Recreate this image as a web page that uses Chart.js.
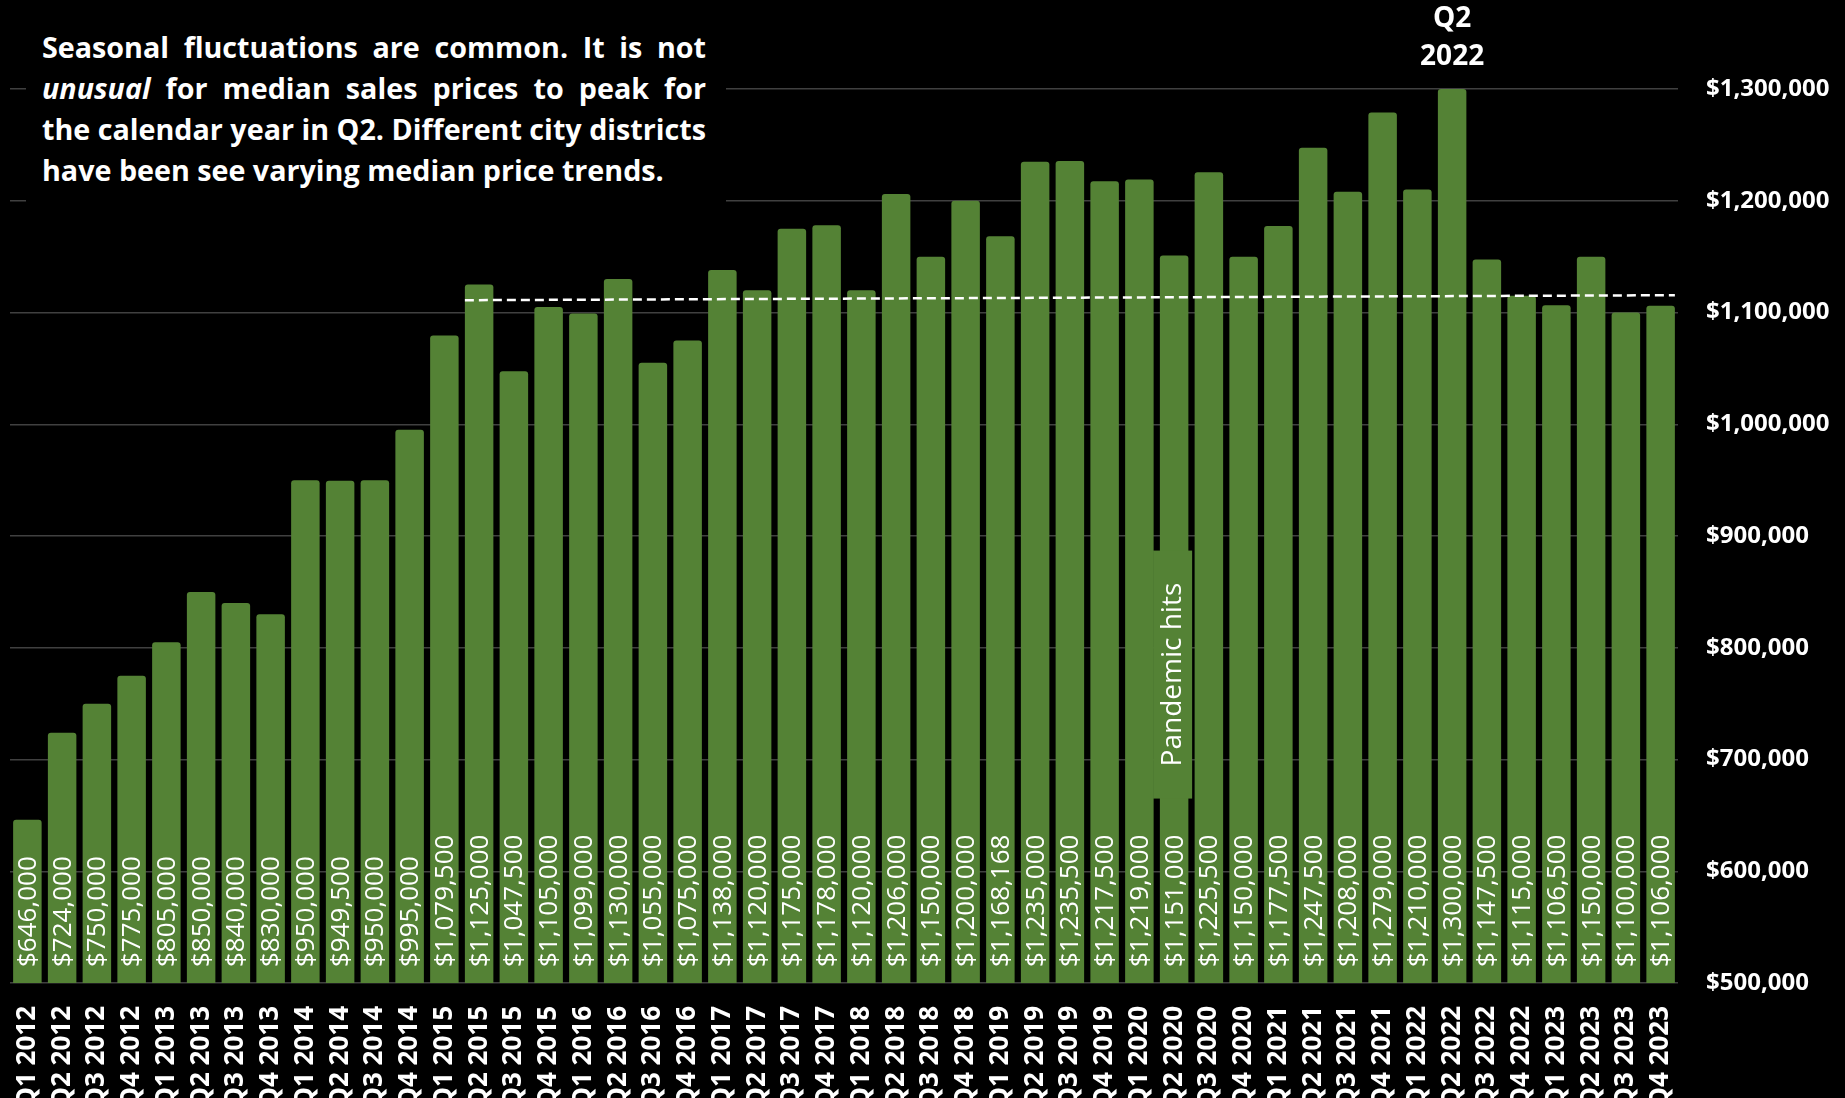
<!DOCTYPE html>
<html>
<head>
<meta charset="utf-8">
<script src="https://cdn.jsdelivr.net/npm/chart.js@4.4.1/dist/chart.umd.min.js"></script>
<style>
  html, body { margin: 0; padding: 0; background: #000; overflow: hidden; }
  .wrap { position: relative; width: 1845px; height: 1098px; }
  #priceChart { position: absolute; left: 0; top: 0; }
  .note {
    position: absolute; left: 26px; top: 0; width: 700px; height: 206px;
    background: #000; box-sizing: border-box; padding: 26px 0 0 16px;
    font-family: "Open Sans", sans-serif; font-weight: 700; font-size: 28.7px;
    line-height: 41px; color: #fff;
  }
  .note div { width: 664px; text-align: justify; text-align-last: justify; white-space: nowrap; }
  .note div.last { text-align-last: left; }
</style>
</head>
<body>
<div class="wrap">
  <canvas id="priceChart" width="1845" height="1098"></canvas>
  <div class="note" id="note"></div>
</div>
<script>
// quarters on the x axis
const quarters = [
  'Q1 2012', 'Q2 2012', 'Q3 2012', 'Q4 2012',
  'Q1 2013', 'Q2 2013', 'Q3 2013', 'Q4 2013',
  'Q1 2014', 'Q2 2014', 'Q3 2014', 'Q4 2014',
  'Q1 2015', 'Q2 2015', 'Q3 2015', 'Q4 2015',
  'Q1 2016', 'Q2 2016', 'Q3 2016', 'Q4 2016',
  'Q1 2017', 'Q2 2017', 'Q3 2017', 'Q4 2017',
  'Q1 2018', 'Q2 2018', 'Q3 2018', 'Q4 2018',
  'Q1 2019', 'Q2 2019', 'Q3 2019', 'Q4 2019',
  'Q1 2020', 'Q2 2020', 'Q3 2020', 'Q4 2020',
  'Q1 2021', 'Q2 2021', 'Q3 2021', 'Q4 2021',
  'Q1 2022', 'Q2 2022', 'Q3 2022', 'Q4 2022',
  'Q1 2023', 'Q2 2023', 'Q3 2023', 'Q4 2023'
]

// median sales price per quarter
const medianPrice = [
  646000, 724000, 750000, 775000,
  805000, 850000, 840000, 830000,
  950000, 949500, 950000, 995000,
  1079500, 1125000, 1047500, 1105000,
  1099000, 1130000, 1055000, 1075000,
  1138000, 1120000, 1175000, 1178000,
  1120000, 1206000, 1150000, 1200000,
  1168168, 1235000, 1235500, 1217500,
  1219000, 1151000, 1225500, 1150000,
  1177500, 1247500, 1208000, 1279000,
  1210000, 1300000, 1147500, 1115000,
  1106500, 1150000, 1100000, 1106000
]

// y axis ticks
const yTicks = [500000, 600000, 700000, 800000, 900000, 1000000, 1100000, 1200000, 1300000]

// dashed trend line: from/to quarter and value at each end
const trendQuarters = ['Q2 2015', 'Q4 2023']
const trendValues = [1111000, 1115500]

const peakQuarter = 'Q2 2022'
const peakLines = ['Q2', '2022']

const pandemicQuarter = 'Q2 2020'
const pandemicText = 'Pandemic hits'

const noteLines = [
  'Seasonal fluctuations are common. It is not',
  '<i>unusual</i> for median sales prices to peak for',
  'the calendar year in Q2. Different city districts',
  'have been see varying median price trends.'
]

const BAR_GREEN = '#548235'
const FONT = '"Open Sans", sans-serif'

// note box top left
const note = document.getElementById('note')
noteLines.forEach((line, i) => {
  const div = document.createElement('div')
  div.innerHTML = line
  if (i === noteLines.length - 1) div.classList.add('last')
  note.appendChild(div)
})

const money = v => '$' + v.toLocaleString('en-US')

// value labels written upward inside each bar
const barLabels = {
  id: 'barLabels',
  afterDatasetsDraw(chart) {
    const ctx = chart.ctx
    const meta = chart.getDatasetMeta(0)
    const base = chart.chartArea.bottom
    ctx.save()
    ctx.fillStyle = '#fff'
    ctx.font = '400 26px ' + FONT
    ctx.textAlign = 'left'
    ctx.textBaseline = 'middle'
    meta.data.forEach((bar, i) => {
      ctx.save()
      ctx.translate(bar.x, base - 16)
      ctx.rotate(-Math.PI / 2)
      ctx.fillText(money(medianPrice[i]), 0, 1)
      ctx.restore()
    })
    ctx.restore()
  }
}

// dashed trend line, peak label and pandemic marker
const extras = {
  id: 'extras',
  afterDatasetsDraw(chart) {
    const ctx = chart.ctx
    const x = chart.scales.x
    const y = chart.scales.y
    const meta = chart.getDatasetMeta(0)
    const i0 = quarters.indexOf(trendQuarters[0])
    const i1 = quarters.indexOf(trendQuarters[1])
    const half = meta.data[i0].width / 2

    ctx.save()
    ctx.strokeStyle = '#fff'
    ctx.lineWidth = 2.5
    ctx.setLineDash([9, 5])
    ctx.beginPath()
    ctx.moveTo(x.getPixelForValue(i0) - half, y.getPixelForValue(trendValues[0]))
    ctx.lineTo(x.getPixelForValue(i1) + half, y.getPixelForValue(trendValues[1]))
    ctx.stroke()
    ctx.restore()

    // peak quarter above the tallest bar
    const px = x.getPixelForValue(quarters.indexOf(peakQuarter))
    ctx.save()
    ctx.fillStyle = '#fff'
    ctx.font = '700 28px ' + FONT
    ctx.textAlign = 'center'
    ctx.textBaseline = 'middle'
    ctx.fillText(peakLines[0], px, 19)
    ctx.fillText(peakLines[1], px, 57)
    ctx.restore()

    // pandemic box
    const bx = x.getPixelForValue(quarters.indexOf(pandemicQuarter)) - 2
    const by = y.getPixelForValue(776000)
    ctx.save()
    ctx.fillStyle = BAR_GREEN
    ctx.fillRect(bx - 19, by - 124, 39, 248)
    ctx.translate(bx, by)
    ctx.rotate(-Math.PI / 2)
    ctx.fillStyle = '#fff'
    ctx.font = '400 28px ' + FONT
    ctx.textAlign = 'center'
    ctx.textBaseline = 'middle'
    ctx.fillText(pandemicText, 0, 1)
    ctx.restore()
  }
}

const ctx = document.getElementById('priceChart').getContext('2d')

new Chart(ctx, {
  type: 'bar',
  data: {
    labels: quarters,
    datasets: [{
      data: medianPrice,
      backgroundColor: BAR_GREEN,
      borderRadius: 3,
      barPercentage: 0.82,
      categoryPercentage: 1
    }]
  },
  options: {
    responsive: false,
    animation: false,
    devicePixelRatio: 1,
    layout: { padding: { left: 10, top: 89, right: 0, bottom: 0 } },
    plugins: {
      legend: { display: false },
      tooltip: { enabled: false }
    },
    scales: {
      x: {
        grid: { display: false },
        border: { display: false },
        ticks: {
          color: '#fff',
          font: { family: FONT, size: 26, weight: '700' },
          minRotation: 90,
          maxRotation: 90,
          autoSkip: false,
          padding: 15
        },
        afterFit: s => { s.height = 115 }
      },
      y: {
        position: 'right',
        min: 500000,
        max: 1300000,
        afterBuildTicks: s => { s.ticks = yTicks.map(v => ({ value: v })) },
        grid: { color: '#404040', lineWidth: 1.5, drawTicks: false },
        border: { display: false },
        ticks: {
          color: '#fff',
          font: { family: FONT, size: 24, weight: '700' },
          padding: 28,
          callback: v => money(v)
        },
        afterFit: s => { s.width = 167 }
      }
    }
  },
  plugins: [barLabels, extras]
})
</script>
</body>
</html>
